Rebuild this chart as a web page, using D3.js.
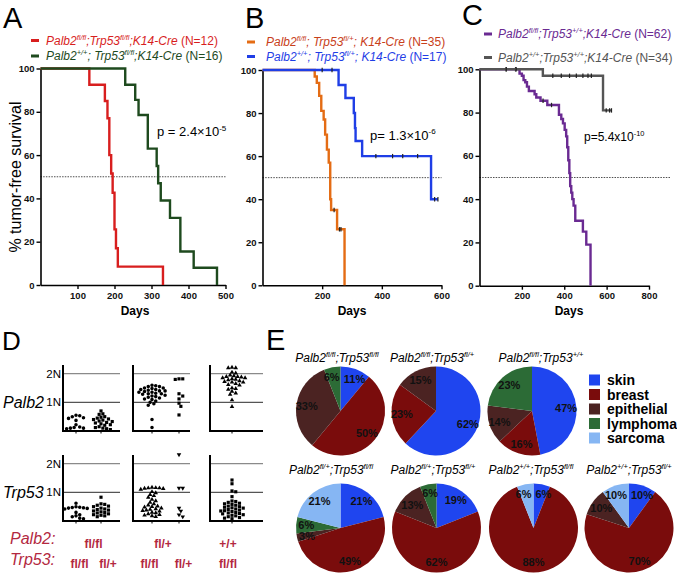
<!DOCTYPE html>
<html><head><meta charset="utf-8">
<script src="https://cdn.jsdelivr.net/npm/d3@7"></script>
<style>body{margin:0;background:#fff}svg{display:block}text{font-family:"Liberation Sans",Arial,Helvetica,sans-serif}</style>
</head><body><svg id="c" width="677" height="576"></svg>
<script>
// ---------------- DATA: Kaplan-Meier (days / % tumor-free) ----------------
const daysA_ff = [0,132,174,181,186,191,195,200,204,209,331];
const survA_ff = [100,92.5,85,77,60,51.5,42.6,25.7,17,8.5,0];
const daysA_wt = [0,229,256,265,290,314,318,325,350,378,414,477];
const survA_wt = [100,92.5,85.5,78.5,63,55,47,39,31,15.5,8,0];
const daysB_ff = [0,175,182,190,197,205,210,216,222,227,230,250,275];
const survB_ff = [100,97,94,88,81,77,70,63,57,40,35,26,0];
const daysB_wt = [0,255,278,306,310,312,334,565,588];
const survB_wt = [100,93,87,80,73,67,60,40,40];
const daysC_ff = [0,189,200,208,216,224,233,260,268,288,320,375,386,394,402,409,414,419,424,428,433,438,444,452,488,504,524];
const survC_ff = [100,98,97,95,94,92,90,88.5,87,85.5,83.5,79,77,75,72,69,64,58,52,46,43,40,37,30,25,19,0];
const daysC_wt = [0,299,583,623];
const survC_wt = [100,97,81,81];
const censB_ff = [240,258,263];
const censB_wt = [200,233,380,436,470,520,577,588];
const censC_ff = [126,170,300,340];
const censC_wt = [126,173,346,386,425,457,488,512,528,598,614,623];
const yTicksKM = [0,20,40,60,80,100];
const xTicksA = [100,200,300,400,500];
const xTicksB = [200,400,600];
const xTicksC = [200,400,600,800];

// ---------------- DATA: copy number (D), in units of N ----------------
const palb2_ff_ff = [0.55,0.53,0.5,0.46,0.44,0.37,0.22,0.14,0.12,0.1,0.08,0.1];
const palb2_ff_fp = [0.7,0.6,0.58,0.5,0.48,0.45,0.42,0.4,0.38,0.35,0.33,0.3,0.28,0.25,0.22,0.2,0.15,0.12,0.1,0.08,0.05];
const palb2_fp_ff = [1.6,1.58,1.55,1.55,1.5,1.5,1.48,1.45,1.45,1.42,1.4,1.4,1.38,1.35,1.35,1.32,1.3,1.3,1.28,1.25,1.22,1.2,1.18,1.15,1.12,1.1,1.05,1.0,0.95,0.9,0.4,0.12];
const palb2_fp_fp = [1.82,1.82,1.8,1.3,1.22,1.12,0.97,0.86,0.56];
const palb2_pp_ff = [2.22,2.2,2.2,2.05,2.02,1.95,1.92,1.9,1.9,1.88,1.85,1.85,1.82,1.8,1.78,1.75,1.72,1.7,1.7,1.65,1.62,1.6,1.5,1.48,1.45,1.38,1.32,1.28,1.08,0.85];
const trp53_ff_ff = [0.62,0.5,0.48,0.47,0.46,0.45,0.44,0.42,0.3,0.22,0.18,0.15,0.1,0.08];
const trp53_ff_fp = [0.83,0.6,0.58,0.55,0.52,0.5,0.45,0.42,0.4,0.38,0.35,0.32,0.3,0.28,0.25,0.22,0.2,0.18,0.15];
const trp53_fp_ff = [1.17,1.16,1.15,1.15,1.14,1.13,1.1,1.02,0.98,0.92,0.88,0.82,0.75,0.7,0.65,0.6,0.55,0.52,0.5,0.48,0.45,0.42,0.4,0.38,0.36,0.34,0.3,0.28,0.25,0.22,0.2,0.18,0.15];
const trp53_fp_fp = [2.32,1.15,1.15,0.45,0.35,0.22,0.15];
const trp53_pp_ff = [1.43,1.3,1.05,1.02,0.85,0.7,0.68,0.65,0.62,0.6,0.58,0.55,0.52,0.5,0.48,0.46,0.45,0.42,0.4,0.38,0.36,0.35,0.33,0.3,0.28,0.26,0.25,0.22,0.2,0.18,0.15,0.12,0.1,0.08];
const dYTicks = ['1N','2N'];
const palb2Geno = ['fl/fl','fl/+','+/+'];
const trp53Geno = ['fl/fl','fl/+','fl/fl','fl/+','fl/fl'];

// ---------------- DATA: tumor spectrum (E), % ----------------
const tumorTypes = ['skin','breast','epithelial','lymphoma','sarcoma'];
const pie_ff_ff = [11,50,33,6,0];
const pie_ff_fp = [62,23,15,0,0];
const pie_ff_pp = [47,16,14,23,0];
const pie_fp_ff = [21,49,3,6,21];
const pie_fp_fp = [19,62,13,6,0];
const pie_pp_ff = [6,88,0,0,6];
const pie_pp_fp = [10,70,10,0,10];

// ---------------- helpers ----------------
const svg = d3.select('#c');
function rich(parent, str, size, x, y, opt) {
  opt = opt || {};
  const t = parent.append('text').attr('x', x).attr('y', y)
    .attr('text-anchor', opt.anchor || 'start').attr('fill', opt.fill || '#000')
    .attr('font-weight', opt.weight || 'normal').attr('font-size', size);
  let sup = false, ital = !!opt.italic, shift = 0;
  str.split(/([\^|])/).forEach(tok => {
    if (tok === '^') { sup = !sup; return; }
    if (tok === '|') { ital = !ital; return; }
    if (!tok) return;
    const target = sup ? -size * 0.4 : 0;
    t.append('tspan').attr('dy', target - shift).attr('font-size', sup ? size * 0.62 : size)
      .attr('font-style', ital ? 'italic' : 'normal').text(tok);
    shift = target;
  });
  return t;
}
function survAt(days, surv, t) { let v = surv[0]; for (let i = 0; i < days.length; i++) if (days[i] <= t) v = surv[i]; return v; }

// ---------------- Panels A-C ----------------
const kmPanels = [
  {letter:'A', lx:3, ly:28, xr:[40.5,225.5], xmax:500, xt:xTicksA, yr:[285,68.5], dashTo:500,
   p:'p = 2.4×10^-5^', px:157, py:136, ps:13, daysX:135, legY:[44.5,60], legMX:31, legTX:46,
   series:[
     {d:daysA_ff, s:survA_ff, cens:[], c:'#d81e1e', lab:'Palb2^fl/fl^;Trp53^fl/fl^;K14-Cre| (N=12)'},
     {d:daysA_wt, s:survA_wt, cens:[], c:'#1e4a1e', lab:'Palb2^+/+^; Trp53^fl/fl^;K14-Cre| (N=16)'}]},
  {letter:'B', lx:245, ly:28, xr:[262.5,441.5], xmax:600, xt:xTicksB, yr:[285.3,70], dashTo:600,
   p:'p= 1.3×10^-6^', px:370, py:139.5, ps:13, daysX:352, legY:[46,60.5], legMX:247, legTX:266,
   series:[
     {d:daysB_ff, s:survB_ff, cens:censB_ff, c:'#e46c14', lab:'Palb2^fl/fl^; Trp53^fl/+^; K14-Cre| (N=35)', tc:'#c8401a'},
     {d:daysB_wt, s:survB_wt, cens:censB_wt, c:'#1f3ee6', lab:'Palb2^+/+^; Trp53^fl/+^; K14-Cre| (N=17)'}]},
  {letter:'C', lx:462, ly:25, xr:[479.5,649], xmax:800, xt:xTicksC, yr:[285.7,69.3], dashTo:900,
   p:'p=5.4x10^-10^', px:584, py:141, ps:12, daysX:569, legY:[38,61.5], legMX:484, legTX:498,
   series:[
     {d:daysC_ff, s:survC_ff, cens:censC_ff, c:'#6a2a92', lab:'Palb2^fl/fl^;Trp53^+/+^;K14-Cre| (N=62)'},
     {d:daysC_wt, s:survC_wt, cens:censC_wt, c:'#555555', lab:'Palb2^+/+^;Trp53^+/+^;K14-Cre| (N=34)'}]}
];

kmPanels.forEach(P => {
  const g = svg.append('g');
  g.append('text').attr('x', P.lx).attr('y', P.ly).attr('font-size', 29).text(P.letter);
  const x = d3.scaleLinear().domain([0, P.xmax]).range(P.xr);
  const y = d3.scaleLinear().domain([0, 100]).range(P.yr);
  g.append('line').attr('x1', x(0)).attr('x2', x(P.dashTo)).attr('y1', y(50)).attr('y2', y(50))
    .attr('stroke', '#222').attr('stroke-width', 0.8).attr('stroke-dasharray', '1.5,1.2');
  const ya = g.append('g').attr('transform', `translate(${x(0)},0)`)
    .call(d3.axisLeft(y).tickValues(yTicksKM).tickSize(4).tickSizeOuter(0).tickPadding(2));
  const xa = g.append('g').attr('transform', `translate(0,${y(0)})`)
    .call(d3.axisBottom(x).tickValues(P.xt).tickSize(4).tickSizeOuter(0).tickPadding(3));
  [ya, xa].forEach(a => {
    a.select('.domain').attr('stroke', '#000').attr('stroke-width', 1.6);
    a.selectAll('.tick line').attr('stroke', '#000').attr('stroke-width', 1.4);
    a.selectAll('.tick text').attr('font-size', 9.5).attr('font-weight', 'bold').attr('fill', '#111')
      .attr('font-family', '"Liberation Sans",Arial,sans-serif');
  });
  const line = d3.line().x(d => x(d[0])).y(d => y(d[1])).curve(d3.curveStepAfter);
  P.series.forEach((S, i) => {
    const pts = S.d.map((t, k) => [t, S.s[k]]);
    g.append('path').attr('d', line(pts)).attr('fill', 'none').attr('stroke', S.c)
      .attr('stroke-width', 2.4).attr('stroke-linejoin', 'miter');
    g.selectAll(null).data(S.cens).enter().append('line')
      .attr('x1', t => x(t)).attr('x2', t => x(t))
      .attr('y1', t => y(survAt(S.d, S.s, t)) - 2.2).attr('y2', t => y(survAt(S.d, S.s, t)) + 2.2)
      .attr('stroke', '#222').attr('stroke-width', 1.2);
    const ly = P.legY[i];
    g.append('line').attr('x1', P.legMX).attr('x2', P.legMX + 8).attr('y1', ly - 4).attr('y2', ly - 4)
      .attr('stroke', S.c).attr('stroke-width', 3);
    rich(g, S.lab, 12, P.legTX, ly, {italic: true, fill: S.tc || S.c});
  });
  rich(g, P.p, P.ps, P.px, P.py, {});
  g.append('text').attr('x', P.daysX).attr('y', 315).attr('text-anchor', 'middle')
    .attr('font-size', 12).attr('font-weight', 'bold').text('Days');
});
svg.append('text').attr('transform', 'translate(21,177) rotate(-90)').attr('text-anchor', 'middle')
  .attr('font-size', 16).text('% tumor-free survival');

// ---------------- Panel D ----------------
const gD = svg.append('g');
gD.append('text').attr('x', 2).attr('y', 350).attr('font-size', 26).text('D');
const colKeys = ['c1','c2','c3','c4','c5'];
const colX = d3.scaleOrdinal().domain(colKeys).range([76,101,152,179,232]);
const boxes = [{x0:63,x1:120},{x0:133,x1:190},{x0:210,x1:263}];
const dRows = [
  {name:'Palb2', base:431, top:365, cols:[palb2_ff_ff,palb2_ff_fp,palb2_fp_ff,palb2_fp_fp,palb2_pp_ff],
   shapes:['circle','square','circle','square','triangle']},
  {name:'Trp53', base:521, top:455, cols:[trp53_ff_ff,trp53_ff_fp,trp53_fp_ff,trp53_fp_fp,trp53_pp_ff],
   shapes:['circle','square','triangle','tdown','square']}
];
const symT = {circle:d3.symbolCircle, square:d3.symbolSquare, triangle:d3.symbolTriangle, tdown:d3.symbolTriangle};
const symS = {circle:10, square:10, triangle:9, tdown:9};
function swarm(vals, y, d) {
  const placed = [];
  vals.slice().sort((a, b) => b - a).forEach(v => {
    const py = y(v);
    for (let k = 0; k < 60; k++) {
      const px = (k % 2 ? 1 : -1) * Math.ceil(k / 2) * d * 0.55;
      if (placed.every(p => (p.x - px) ** 2 + (p.y - py) ** 2 >= d * d)) { placed.push({x: px, y: py}); break; }
    }
  });
  return placed;
}
dRows.forEach(R => {
  const y = d3.scaleLinear().domain([0, 2]).range([R.base, R.base - 57.3]);
  rich(gD, R.name, 16, 3, y(1) + 5.5, {italic: true});
  dYTicks.forEach((t, i) => {
    gD.append('text').attr('x', 61).attr('y', y(i + 1) + 4).attr('text-anchor', 'end').attr('font-size', 11.5).text(t);
  });
  boxes.forEach(B => {
    [1, 2].forEach(n => gD.append('line').attr('x1', B.x0).attr('x2', B.x1).attr('y1', y(n)).attr('y2', y(n))
      .attr('stroke', n === 2 ? '#8a8a8a' : '#555').attr('stroke-width', 1.3));
    gD.append('path').attr('d', `M${B.x0},${R.top}V${R.base}H${B.x1}`).attr('fill', 'none')
      .attr('stroke', '#000').attr('stroke-width', 2);
  });
  R.cols.forEach((vals, ci) => {
    const cx = colX(colKeys[ci]);
    gD.append('line').attr('x1', cx).attr('x2', cx).attr('y1', R.base).attr('y2', R.base + 2.5).attr('stroke', '#000').attr('stroke-width', 1);
    const sh = R.shapes[ci];
    const sym = d3.symbol().type(symT[sh]).size(symS[sh]);
    gD.selectAll(null).data(swarm(vals, y, 3.4)).enter().append('path')
      .attr('d', sym).attr('fill', '#000')
      .attr('transform', p => `translate(${cx + p.x},${p.y})` + (sh === 'tdown' ? ' rotate(180)' : ''));
  });
});
const genoColor = '#b3283f';
rich(gD, 'Palb2:', 16, 10, 544, {italic: true, fill: genoColor});
rich(gD, 'Trp53:', 16, 10, 565, {italic: true, fill: genoColor});
const palbGenoX = [93.5, 163, 228];
const trpGenoX = [79.5, 108, 149.5, 183.5, 228];
palb2Geno.forEach((t, i) => gD.append('text').attr('x', palbGenoX[i]).attr('y', 548).attr('text-anchor', 'middle').attr('font-size', 12).attr('font-weight', 'bold').attr('fill', genoColor).text(t));
trp53Geno.forEach((t, i) => gD.append('text').attr('x', trpGenoX[i]).attr('y', 568).attr('text-anchor', 'middle').attr('font-size', 12).attr('font-weight', 'bold').attr('fill', genoColor).text(t));

// ---------------- Panel E ----------------
const gE = svg.append('g');
gE.append('text').attr('x', 266).attr('y', 350).attr('font-size', 29).text('E');
const color = d3.scaleOrdinal().domain(tumorTypes).range(['#1f45ef','#7a0c0c','#4b2322','#2c6b36','#86b6f3']);
const pies = [
  {v:pie_ff_ff, t:'Palb2^fl/fl^;Trp53^fl/fl^', cx:340.5, cy:411, tx:337, ty:362},
  {v:pie_ff_fp, t:'Palb2^fl/fl^;Trp53^fl/+^', cx:436, cy:411, tx:432, ty:362},
  {v:pie_ff_pp, t:'Palb2^fl/fl^;Trp53^+/+^', cx:532, cy:411, tx:541, ty:362},
  {v:pie_fp_ff, t:'Palb2^fl/+^;Trp53^fl/fl^', cx:340.5, cy:528, tx:331, ty:474},
  {v:pie_fp_fp, t:'Palb2^fl/+^;Trp53^fl/+^', cx:436.5, cy:528, tx:433, ty:474},
  {v:pie_pp_ff, t:'Palb2^+/+^;Trp53^fl/fl^', cx:533.5, cy:528, tx:531, ty:474},
  {v:pie_pp_fp, t:'Palb2^+/+^;Trp53^fl/+^', cx:629, cy:528, tx:629, ty:474}
];
const R = 44.5;
const pieGen = d3.pie().sort(null).value(d => d.v);
const arc = d3.arc().innerRadius(0).outerRadius(R);
const labArc = d3.arc().innerRadius(R * 0.77).outerRadius(R * 0.77);
pies.forEach(p => {
  const g = gE.append('g').attr('transform', `translate(${p.cx},${p.cy})`);
  const arcs = pieGen(tumorTypes.map((k, i) => ({k, v: p.v[i]}))).filter(a => a.data.v > 0);
  g.selectAll(null).data(arcs).enter().append('path')
    .attr('d', arc).attr('fill', a => color(a.data.k));
  // label positions, nudged apart when they collide
  const labs = arcs.map(a => { const c = labArc.centroid(a); return {a, x: c[0], y: c[1], w: (String(a.data.v).length * 0.556 + 0.889) * 11}; });
  for (let it = 0; it < 4; it++) {
    for (let i = 0; i < labs.length; i++) for (let j = i + 1; j < labs.length; j++) {
      const A = labs[i], B = labs[j];
      const dx = B.x - A.x, dy = B.y - A.y, needX = (A.w + B.w) / 2 + 4, needY = 11.5;
      if (Math.abs(dx) < needX && Math.abs(dy) < needY) {
        if (Math.abs(dy) >= Math.abs(dx) * 0.5) {
          const s = (needY - Math.abs(dy)) / 2 * (dy >= 0 ? 1 : -1); A.y -= s; B.y += s;
        } else {
          const s = (needX - Math.abs(dx)) / 2 * (dx >= 0 ? 1 : -1); A.x -= s; B.x += s;
        }
      }
    }
  }
  g.selectAll(null).data(labs).enter().append('text')
    .attr('x', l => l.x).attr('y', l => l.y).attr('text-anchor', 'middle').attr('dy', '0.36em')
    .attr('font-size', 11).attr('font-weight', 'bold').attr('fill', '#111').text(l => l.a.data.v + '%');
  rich(gE, p.t, 12, p.tx, p.ty, {italic: true, anchor: 'middle'});
});
tumorTypes.forEach((k, i) => {
  const yy = 380 + i * 14.5;
  gE.append('rect').attr('x', 589).attr('y', yy - 5.5).attr('width', 11).attr('height', 11).attr('fill', color(k));
  gE.append('text').attr('x', 607).attr('y', yy + 5).attr('font-size', 14).attr('font-weight', 'bold').text(k);
});
</script></body></html>
